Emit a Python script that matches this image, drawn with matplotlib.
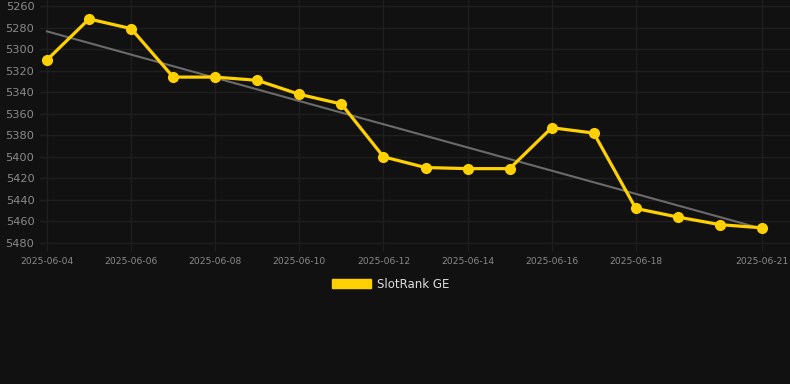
import matplotlib
matplotlib.use('Agg')
import matplotlib.pyplot as plt
import matplotlib.dates as mdates
from matplotlib.patches import Patch
import numpy as np
import pandas as pd

# data
dates = pd.date_range('2025-06-04', '2025-06-21', freq='D')
ranks = [5310, 5272, 5281, 5326, 5326, 5329, 5342, 5351, 5400,
         5410, 5411, 5411, 5373, 5378, 5448, 5456, 5463, 5466]
tick_dates = ['2025-06-04', '2025-06-06', '2025-06-08', '2025-06-10', '2025-06-12',
              '2025-06-14', '2025-06-16', '2025-06-18', '2025-06-21']
y_ticks = list(range(5260, 5481, 20))
series_name = 'SlotRank GE'

bg = '#111111'
yellow = '#FFD100'
grid_c = '#1f1f1f'
label_c = '#8a8a8a'

fig = plt.figure(figsize=(7.9, 3.84), dpi=100, facecolor=bg)
ax = fig.add_axes([40 / 790, 1 - 244 / 384, 750 / 790, 244 / 384])
ax.set_facecolor(bg)

# trend line (least squares on the series)
xnum = mdates.date2num(dates)
k, b = np.polyfit(xnum - xnum[0], ranks, 1)
ax.plot(dates, k * (xnum - xnum[0]) + b, color='#6b6b6b', lw=1.5, zorder=2)

ax.plot(dates, ranks, color=yellow, lw=2.3, marker='o', markersize=7, zorder=3)

# axes ranges, rank 1 at top
x0 = mdates.date2num(pd.Timestamp('2025-06-04'))
x1 = mdates.date2num(pd.Timestamp('2025-06-21'))
ax.set_xlim(x0 - 0.167, x1 + 0.666)
ax.set_ylim(5481, 5254.4)

ax.set_yticks(y_ticks)
ax.set_xticks(pd.to_datetime(tick_dates))
ax.xaxis.set_major_formatter(mdates.DateFormatter('%Y-%m-%d'))
ax.tick_params(axis='y', length=0, labelsize=8.2, labelcolor=label_c, pad=4)
ax.tick_params(axis='x', length=5, color=grid_c, labelsize=6.6, labelcolor=label_c, pad=4)
ax.grid(True, color=grid_c, lw=1)
ax.set_axisbelow(True)
for s in ax.spines.values():
    s.set_visible(False)

leg = fig.legend(handles=[Patch(facecolor=yellow, edgecolor=yellow, label=series_name)],
                 loc='center', bbox_to_anchor=(0.495, 1 - 284 / 384), frameon=False,
                 fontsize=8.5, handlelength=3.3, handleheight=0.85, handletextpad=0.5)
for t in leg.get_texts():
    t.set_color('#dddddd')

fig.savefig('out.png', dpi=100, facecolor=bg)
